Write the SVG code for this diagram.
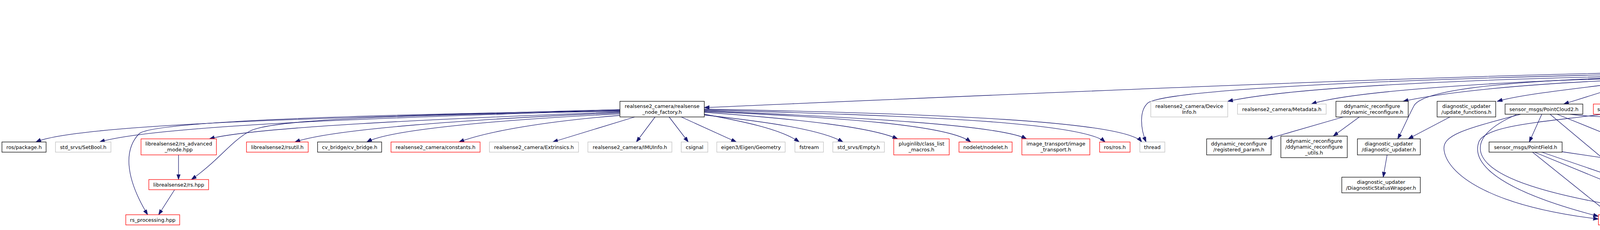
<svg xmlns="http://www.w3.org/2000/svg" width="5721" height="588" viewBox="0 0 5721 588">
<style>
rect{fill:#fff;stroke:#000;stroke-width:1.3}
rect.g{stroke:#bfbfbf}
rect.r{stroke:#ff0000}
rect.root{fill:#bfbfbf}
text{font-family:"DejaVu Sans","Liberation Sans",sans-serif;font-size:12.9px;text-anchor:middle;fill:#000}
#edges path{fill:none;stroke:#191970;stroke-width:1.3;marker-end:url(#a)}
</style>
<defs>
<marker id="a" markerWidth="14" markerHeight="10" refX="13.3" refY="4.7" orient="auto" markerUnits="userSpaceOnUse">
<path d="M0,0 L13.3,4.7 L0,9.4 z" fill="#191970" stroke="#191970" stroke-width="1"/>
</marker>
</defs>
<rect x="0" y="0" width="5721" height="588" style="fill:#fff;stroke:none"/>
<g id="edges">
<path d="M4251,31 L4251,80"/>
<path d="M4251,121 L4251,170"/>
<path d="M4160,186 C3500,200 2500,245 1803,275"/>
<path d="M4160,190 C3500,205 3000,230 2940,262 C2915,282 2920,330 2934,363"/>
<path d="M4160,195 C3700,205 3300,225 3143,259"/>
<path d="M4160,200 C3800,210 3450,235 3357,266"/>
<path d="M4160,204 C3900,215 3700,235 3592,259"/>
<path d="M4165,210 C4050,225 3900,240 3833,259"/>
<path d="M4160,198 C3800,210 3640,235 3620,270 C3604,300 3592,330 3578,355"/>
<path d="M4182,210 L4003,266"/>
<path d="M4229,210 L4171,266"/>
<path d="M4273,210 L4330,266"/>
<path d="M4324,210 L4498,259"/>
<path d="M4342,203 C4500,230 4650,250 4717,266"/>
<path d="M4342,199 C4600,220 4820,245 4906,266"/>
<path d="M4342,195 C4700,210 5000,235 5100,259"/>
<path d="M4342,192 C4800,210 5200,240 5320,266"/>
<path d="M4342,190 C4900,200 5350,230 5477,266"/>
<path d="M4342,188 C5000,195 5450,225 5563,266"/>
<path d="M4342,186 C5100,192 5550,225 5652,266"/>
<path d="M1587,280 C900,300 200,315 92,363"/>
<path d="M1587,282 C1000,300 400,320 255,363"/>
<path d="M1587,286 C1100,305 650,325 536,355"/>
<path d="M1587,288 C1200,305 850,330 755,363"/>
<path d="M1587,291 C1300,305 1000,330 939,363"/>
<path d="M1587,295 C1400,310 1250,335 1175,363"/>
<path d="M1625,299 L1415,363"/>
<path d="M1677,299 L1629,363"/>
<path d="M1587,284 C1000,295 700,305 640,335 C590,362 560,410 490,459"/>
<path d="M1587,283 C900,293 400,310 357,341 C318,380 318,450 378,549"/>
<path d="M1713,299 L1762,363"/>
<path d="M1744,299 L1885,363"/>
<path d="M1803,292 C1900,310 2000,330 2046,363"/>
<path d="M1803,294 C1950,310 2100,330 2158,363"/>
<path d="M1803,287 C2050,305 2230,325 2298,355"/>
<path d="M1803,285 C2150,300 2430,320 2485,363"/>
<path d="M1803,283 C2200,300 2560,320 2628,355"/>
<path d="M1803,281 C2300,295 2770,310 2829,363"/>
<path d="M1803,279 C2400,290 2880,310 2923,363"/>
<path d="M457,396 L457,459"/>
<path d="M447,485 L406,549"/>
<path d="M3439,299 L3245,355"/>
<path d="M3480,299 L3413,348"/>
<path d="M3712,299 L3605,355"/>
<path d="M3551,396 L3541,453"/>
<path d="M3947,292 L3915,363"/>
<path d="M3968,292 L4168,459"/>
<path d="M3986,292 L4162,363"/>
<path d="M3893,292 C3750,330 3690,345 3697,385 C3705,440 3800,525 4092,560"/>
<path d="M3882,293 C3820,320 3785,350 3790,385 C3800,450 3950,505 4311,551"/>
<path d="M4019,292 C4150,310 4450,290 4540,330 C4590,360 4600,400 4601,459"/>
<path d="M4102,292 C3950,312 3810,320 3787,360 C3770,400 3790,475 4092,553"/>
<path d="M4141,292 C4105,340 4100,420 4164,459"/>
<path d="M4159,292 L4191,363"/>
<path d="M4192,292 L4410,363"/>
<path d="M4190,292 C4300,305 4550,300 4600,330 C4640,360 4635,420 4612,459"/>
<path d="M4200,292 C4400,310 5000,300 5070,340 C5120,380 5110,480 5060,505 C4900,540 4600,552 4464,558"/>
<path d="M4329,292 L4220,363"/>
<path d="M4344,292 C4330,350 4290,400 4222,459"/>
<path d="M4413,292 L4793,363"/>
<path d="M4413,292 C4550,320 4660,330 4675,360 C4690,400 4660,430 4635,459"/>
<path d="M4416,292 C4700,320 4960,320 4980,360 C5000,420 4900,495 4464,553"/>
<path d="M4420,292 C4800,310 5010,320 5013,400 C5015,475 4700,525 4500,530 C4350,535 4250,540 4187,556"/>
<path d="M4768,388 L4270,462"/>
<path d="M4819,388 L4640,459"/>
<path d="M4839,388 C4790,450 4700,510 4505,533 C4350,542 4250,548 4187,562"/>
<path d="M4848,388 C4820,470 4780,500 4700,515 C4600,535 4520,545 4464,548"/>
<path d="M4418,388 L4245,459"/>
<path d="M4436,388 C4350,450 4250,500 4168,549"/>
<path d="M4449,388 L4395,541"/>
<path d="M4473,388 L4580,459"/>
<path d="M4176,388 C4120,430 4105,500 4127,549"/>
<path d="M4198,388 L4198,459"/>
<path d="M4212,388 L4360,541"/>
<path d="M4251,388 L4535,459"/>
<path d="M3922,388 L4123,549"/>
<path d="M3926,388 L4311,546"/>
<path d="M3944,388 L4152,459"/>
<path d="M3999,388 L4503,462"/>
<path d="M4189,485 L4147,549"/>
<path d="M4224,485 L4336,541"/>
</g>
<g id="n-root"><rect class="root" x="4158" y="5" width="186" height="26"/><text x="4251" y="22">t265_realsense_node.cpp</text></g>
<g id="n-t265"><rect x="4160" y="80" width="182" height="41"/><text x="4251" y="97">realsense2_camera/t265</text><text x="4251" y="112">_realsense_node.h</text></g>
<g id="n-base"><rect x="4160" y="170" width="182" height="40"/><text x="4251" y="186">realsense2_camera/base</text><text x="4251" y="201">_realsense_node.h</text></g>
<g id="n-factory"><rect x="1587" y="259" width="216" height="40"/><text x="1695" y="276">realsense2_camera/realsense</text><text x="1695" y="291">_node_factory.h</text></g>
<g id="n-deviceinfo"><rect class="g" x="2946" y="259" width="197" height="40"/><text x="3044.5" y="276">realsense2_camera/Device</text><text x="3044.5" y="291">Info.h</text></g>
<g id="n-metadata"><rect class="g" x="3168" y="266" width="227" height="26"/><text x="3281.5" y="283.5">realsense2_camera/Metadata.h</text></g>
<g id="n-ddynamic"><rect x="3420" y="259" width="185" height="40"/><text x="3512.5" y="276">ddynamic_reconfigure</text><text x="3512.5" y="291">/ddynamic_reconfigure.h</text></g>
<g id="n-updatefunc"><rect x="3679" y="259" width="150" height="40"/><text x="3754" y="276">diagnostic_updater</text><text x="3754" y="291">/update_functions.h</text></g>
<g id="n-pc2"><rect x="3853" y="266" width="199" height="26"/><text x="3952.5" y="283.5">sensor_msgs/PointCloud2.h</text></g>
<g id="n-imu"><rect class="r" x="4079" y="266" width="145" height="26"/><text x="4151.5" y="283.5">sensor_msgs/Imu.h</text></g>
<g id="n-camerainfo"><rect x="4250" y="266" width="198" height="26"/><text x="4349" y="283.5">sensor_msgs/CameraInfo.h</text></g>
<g id="n-pc2iter"><rect class="g" x="4474" y="259" width="194" height="40"/><text x="4571" y="276">sensor_msgs/point_cloud2</text><text x="4571" y="291">_iterator.h</text></g>
<g id="n-odometry"><rect class="g" x="4693" y="266" width="167" height="26"/><text x="4776.5" y="283.5">nav_msgs/Odometry.h</text></g>
<g id="n-tf"><rect class="r" x="4884" y="266" width="195" height="26"/><text x="4981.5" y="283.5">tf/transform_broadcaster.h</text></g>
<g id="n-tf2"><rect x="5103" y="259" width="179" height="40"/><text x="5192.5" y="276">tf2_ros/static_transform</text><text x="5192.5" y="291">_broadcaster.h</text></g>
<g id="n-condvar"><rect class="g" x="5306" y="266" width="143" height="26"/><text x="5377.5" y="283.5">condition_variable</text></g>
<g id="n-queue"><rect class="g" x="5473" y="266" width="63" height="26"/><text x="5504.5" y="283.5">queue</text></g>
<g id="n-mutex"><rect class="g" x="5560" y="266" width="65" height="26"/><text x="5592.5" y="283.5">mutex</text></g>
<g id="n-atomic"><rect class="g" x="5649" y="266" width="67" height="26"/><text x="5682.5" y="283.5">atomic</text></g>
<g id="n-package"><rect x="5" y="363" width="113" height="26"/><text x="61.5" y="380.5">ros/package.h</text></g>
<g id="n-setbool"><rect class="g" x="142" y="363" width="142" height="26"/><text x="213" y="380.5">std_srvs/SetBool.h</text></g>
<g id="n-rsadv"><rect class="r" x="361" y="355" width="193" height="41"/><text x="457.5" y="372">librealsense2/rs_advanced</text><text x="457.5" y="387">_mode.hpp</text></g>
<g id="n-rsutil"><rect class="r" x="631" y="363" width="158" height="26"/><text x="710" y="380.5">librealsense2/rsutil.h</text></g>
<g id="n-cvbridge"><rect x="813" y="363" width="164" height="26"/><text x="895" y="380.5">cv_bridge/cv_bridge.h</text></g>
<g id="n-constants"><rect class="r" x="1001" y="363" width="228" height="26"/><text x="1115" y="380.5">realsense2_camera/constants.h</text></g>
<g id="n-extrinsics"><rect class="g" x="1253" y="363" width="228" height="26"/><text x="1367" y="380.5">realsense2_camera/Extrinsics.h</text></g>
<g id="n-imuinfo"><rect class="g" x="1505" y="363" width="215" height="26"/><text x="1612.5" y="380.5">realsense2_camera/IMUInfo.h</text></g>
<g id="n-csignal"><rect class="g" x="1744" y="363" width="68" height="26"/><text x="1778" y="380.5">csignal</text></g>
<g id="n-eigen"><rect class="g" x="1835" y="363" width="175" height="26"/><text x="1922.5" y="380.5">eigen3/Eigen/Geometry</text></g>
<g id="n-fstream"><rect class="g" x="2035" y="363" width="73" height="26"/><text x="2071.5" y="380.5">fstream</text></g>
<g id="n-empty"><rect class="g" x="2132" y="363" width="132" height="26"/><text x="2198" y="380.5">std_srvs/Empty.h</text></g>
<g id="n-pluginlib"><rect class="r" x="2288" y="355" width="142" height="41"/><text x="2359" y="372">pluginlib/class_list</text><text x="2359" y="387">_macros.h</text></g>
<g id="n-nodelet"><rect class="r" x="2455" y="363" width="136" height="26"/><text x="2523" y="380.5">nodelet/nodelet.h</text></g>
<g id="n-imagetransport"><rect class="r" x="2616" y="355" width="174" height="41"/><text x="2703" y="372">image_transport/image</text><text x="2703" y="387">_transport.h</text></g>
<g id="n-rosh"><rect class="r" x="2815" y="363" width="78" height="26"/><text x="2854" y="380.5">ros/ros.h</text></g>
<g id="n-thread"><rect class="g" x="2918" y="363" width="64" height="26"/><text x="2950" y="380.5">thread</text></g>
<g id="n-registered"><rect x="3089" y="355" width="165" height="41"/><text x="3171.5" y="372">ddynamic_reconfigure</text><text x="3171.5" y="387">/registered_param.h</text></g>
<g id="n-ddutils"><rect x="3279" y="348" width="170" height="55"/><text x="3364" y="365">ddynamic_reconfigure</text><text x="3364" y="380">/ddynamic_reconfigure</text><text x="3364" y="395">_utils.h</text></g>
<g id="n-diagupdater"><rect x="3475" y="355" width="161" height="41"/><text x="3555.5" y="372">diagnostic_updater</text><text x="3555.5" y="387">/diagnostic_updater.h</text></g>
<g id="n-pointfield"><rect x="3812" y="363" width="187" height="26"/><text x="3905.5" y="380.5">sensor_msgs/PointField.h</text></g>
<g id="n-header"><rect x="4124" y="363" width="147" height="26"/><text x="4197.5" y="380.5">std_msgs/Header.h</text></g>
<g id="n-quaternion"><rect x="4347" y="363" width="214" height="26"/><text x="4454" y="380.5">geometry_msgs/Quaternion.h</text></g>
<g id="n-roi"><rect x="4738" y="363" width="231" height="26"/><text x="4853.5" y="380.5">sensor_msgs/RegionOfInterest.h</text></g>
<g id="n-rshpp"><rect class="r" x="381" y="459" width="153" height="26"/><text x="457.5" y="476.5">librealsense2/rs.hpp</text></g>
<g id="n-dsw"><rect x="3435" y="453" width="201" height="40"/><text x="3535.5" y="470">diagnostic_updater</text><text x="3535.5" y="485">/DiagnosticStatusWrapper.h</text></g>
<g id="n-serialization"><rect class="r" x="4128" y="459" width="139" height="26"/><text x="4197.5" y="476.5">ros/serialization.h</text></g>
<g id="n-msgops"><rect x="4503" y="459" width="192" height="26"/><text x="4599" y="476.5">ros/message_operations.h</text></g>
<g id="n-rsprocessing"><rect class="r" x="322" y="549" width="138" height="26"/><text x="391" y="566.5">rs_processing.hpp</text></g>
<g id="n-types"><rect class="r" x="4092" y="549" width="95" height="26"/><text x="4139.5" y="566.5">ros/types.h</text></g>
<g id="n-builtin"><rect class="r" x="4311" y="541" width="153" height="41"/><text x="4387.5" y="558">ros/builtin_message</text><text x="4387.5" y="573">_traits.h</text></g>
</svg>
